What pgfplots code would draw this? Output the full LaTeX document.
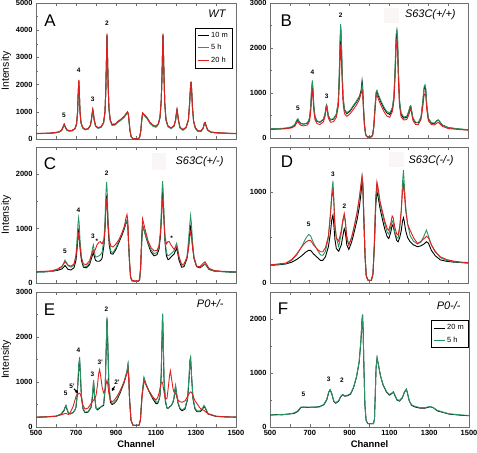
\documentclass[border=0pt]{standalone}
\usepackage{fontspec}
\setmainfont{Liberation Sans}
\usepackage{pgfplots}
\usepackage{pgfplotstable}
\pgfplotsset{compat=1.18}
\usetikzlibrary{arrows.meta}
\definecolor{cgreen}{RGB}{40,150,100}
\definecolor{cred}{RGB}{225,30,30}
\definecolor{axgray}{RGB}{110,110,110}
\definecolor{tbox}{RGB}{250,246,246}
\newcommand{\tickfont}{\fontsize{7.5}{8}\selectfont\bfseries}
\newcommand{\peakfont}{\fontsize{6.5}{7}\selectfont\bfseries}
\newcommand{\letterfont}{\fontsize{17}{18}\selectfont}
\newcommand{\titlefont}{\fontsize{11}{12}\selectfont\itshape}

\pgfplotstableread{
ch k g r
500 200 195 205
530 205 200 210
560 210 205 215
590 225 220 230
615 260 250 265
628 320 305 325
636 450 430 460
641 540 520 550
646 450 430 460
654 340 320 345
665 300 285 305
680 310 295 315
695 380 365 390
703 560 540 570
708 1000 980 1020
711 1650 1620 1680
714 2150 2100 2170
717 1650 1620 1680
720 1000 970 1020
725 600 580 610
733 420 400 430
745 350 335 360
760 370 355 380
772 500 480 510
778 750 730 760
781 950 920 960
784 1080 1040 1090
787 950 920 960
791 700 680 710
798 480 460 490
810 410 390 420
825 440 420 450
838 600 580 610
845 1000 970 1020
849 1800 1760 1830
852 2800 2750 2850
855 3850 3800 3880
858 2900 2850 2950
861 1900 1850 1930
865 1100 1070 1120
871 700 670 710
880 530 500 540
895 540 510 550
910 640 610 650
925 720 690 730
940 820 790 830
952 930 900 950
958 990 960 1000
962 900 880 920
966 600 590 610
970 300 290 310
976 80 75 85
985 10 10 15
1000 5 5 8
1012 10 10 15
1018 60 55 65
1024 300 290 310
1028 650 630 660
1033 950 920 960
1040 900 870 910
1055 780 750 790
1070 600 570 610
1085 500 470 510
1100 460 430 470
1112 560 530 570
1120 800 770 810
1126 1400 1360 1420
1130 2300 2250 2330
1133 3300 3250 3330
1135 3850 3800 3880
1137 3300 3250 3330
1140 2300 2250 2330
1144 1300 1270 1320
1150 700 680 710
1160 470 450 480
1175 400 380 410
1190 480 460 490
1198 700 680 710
1202 950 920 960
1205 1080 1050 1090
1208 950 920 960
1212 700 680 710
1220 420 400 430
1235 340 320 350
1250 420 400 430
1262 700 680 710
1268 1300 1270 1320
1272 1850 1800 1870
1275 2100 2050 2120
1278 1850 1800 1870
1282 1200 1170 1220
1288 650 630 660
1297 400 380 410
1310 290 275 300
1325 290 275 300
1336 400 385 410
1342 580 560 590
1346 600 580 610
1350 500 480 510
1358 330 315 340
1375 250 240 260
1400 230 220 235
1440 215 210 220
1470 205 200 210
1500 200 195 205
}\tabA

\pgfplotstableread{
ch k g r
500 200 205 190
540 205 210 195
580 215 220 205
610 240 250 225
625 290 300 260
635 380 400 340
641 410 430 370
647 360 370 320
657 320 320 280
670 310 310 270
690 330 340 290
700 430 450 380
706 700 740 600
710 1050 1100 900
714 1230 1280 1080
717 1050 1100 920
721 700 740 620
727 470 490 410
737 370 380 320
752 350 360 300
770 410 420 360
779 550 570 500
783 680 700 640
786 720 740 690
789 660 680 620
794 500 510 450
805 400 410 350
820 420 430 360
835 520 530 460
845 800 820 700
850 1400 1450 1200
854 2100 2200 1750
857 2450 2530 2070
860 2200 2300 1850
864 1500 1550 1300
869 900 920 780
876 620 640 540
888 540 560 480
905 600 620 540
920 700 720 630
935 790 810 720
950 900 920 840
960 1050 1000 990
965 1270 1200 1050
968 1150 1100 1000
972 700 680 640
977 300 300 280
983 80 80 70
992 25 25 20
1010 25 25 20
1018 60 60 50
1024 250 250 220
1030 650 650 600
1036 1000 1020 920
1040 1040 1060 960
1046 950 980 880
1060 800 830 730
1075 660 690 590
1090 560 590 490
1105 520 560 460
1118 640 680 590
1126 900 950 830
1132 1500 1600 1400
1137 2200 2300 2000
1141 2350 2410 2140
1144 2200 2300 2000
1148 1500 1550 1350
1154 800 850 720
1162 520 560 470
1175 440 470 400
1190 460 480 410
1200 560 590 500
1207 680 710 620
1211 700 720 640
1215 600 620 550
1222 430 450 390
1235 340 350 300
1250 340 350 300
1263 460 480 420
1272 800 840 700
1278 1080 1140 940
1283 1150 1180 990
1287 1050 1100 920
1292 700 730 620
1300 420 440 380
1315 330 340 300
1330 320 330 290
1343 380 390 330
1350 400 400 345
1357 360 370 320
1370 290 290 260
1400 230 230 210
1450 200 205 190
1500 180 185 175
}\tabB

\pgfplotstableread{
ch k g r
500 200 200 210
540 205 205 215
580 215 215 225
610 235 250 260
630 260 300 310
640 300 380 360
645 320 420 390
650 300 390 370
660 250 320 330
675 240 290 310
690 280 330 350
700 420 520 500
706 650 850 700
710 850 1100 850
713 950 1200 910
716 850 1100 860
720 650 800 680
727 420 480 460
737 290 320 350
752 280 300 340
768 340 370 410
777 450 520 520
783 520 650 580
787 550 700 605
791 500 600 570
797 420 480 620
805 400 480 700
815 400 500 750
822 410 520 760
830 450 560 720
840 700 800 800
845 1000 1150 1000
849 1400 1600 1350
853 1610 1860 1550
856 1450 1700 1450
860 1050 1200 1100
866 700 780 800
874 540 580 680
885 530 560 660
900 620 650 720
915 750 780 800
930 880 910 920
942 1000 1020 1050
950 1100 1120 1200
955 1150 1150 1260
959 1050 1060 1150
963 700 700 800
968 350 350 400
973 100 100 120
980 40 40 50
995 30 30 40
1012 30 30 40
1018 60 60 70
1023 250 250 300
1028 700 700 850
1033 1060 1060 1180
1038 1000 1000 1100
1048 870 880 950
1060 720 740 780
1075 570 610 650
1090 500 540 590
1105 520 560 600
1115 620 680 680
1122 850 950 900
1127 1200 1350 1150
1131 1600 1750 1450
1133 1700 1870 1550
1136 1550 1700 1450
1140 1150 1250 1150
1145 750 800 850
1152 500 560 720
1160 430 500 760
1166 440 510 760
1175 480 540 700
1190 530 590 620
1198 600 680 650
1203 640 730 670
1208 560 650 610
1215 420 480 480
1228 290 330 340
1240 300 330 350
1255 450 480 470
1263 680 800 640
1268 900 1050 820
1273 1030 1240 940
1277 930 1100 880
1282 700 800 680
1290 450 480 460
1303 300 310 310
1320 280 290 300
1335 320 330 360
1345 350 350 390
1352 320 330 350
1365 250 260 270
1390 220 220 230
1430 210 210 215
1470 200 200 210
1500 200 200 205
}\tabC

\pgfplotstableread{
ch k g r
500 195 195 200
540 200 205 210
580 210 215 220
610 230 250 260
635 260 310 320
660 300 400 400
680 340 490 450
695 360 535 470
705 360 520 470
720 320 440 420
740 280 360 370
755 250 310 345
767 250 305 345
780 290 350 390
795 400 500 520
805 550 750 750
812 700 1000 950
818 750 1125 1025
822 650 950 900
828 480 650 620
835 380 500 500
847 350 400 460
860 420 550 580
868 520 680 700
875 600 730 767
880 570 680 700
888 420 520 480
898 370 420 420
912 450 500 500
925 560 620 620
940 700 780 780
952 850 950 950
960 1000 1080 1100
965 1130 1180 1180
969 1050 1100 1100
974 700 720 720
980 300 300 300
986 80 80 80
995 30 30 30
1012 30 30 30
1020 100 100 100
1027 400 420 440
1034 850 900 950
1040 1010 1080 1115
1046 950 1000 1050
1056 820 870 900
1068 700 760 790
1080 590 650 680
1092 510 560 600
1100 490 540 580
1110 560 620 660
1117 640 685 740
1122 630 670 720
1130 550 560 620
1140 470 500 540
1147 455 495 530
1155 500 600 620
1163 580 800 800
1169 680 1100 1000
1174 720 1245 1090
1178 680 1100 1000
1185 580 850 800
1195 500 650 650
1208 455 520 580
1225 420 460 500
1245 400 430 435
1262 410 450 460
1278 430 520 490
1290 455 583 515
1300 440 520 500
1315 360 420 420
1335 300 350 340
1360 255 280 290
1390 240 250 260
1430 230 235 240
1470 225 225 230
1500 220 220 225
}\tabD

\pgfplotstableread{
ch k g r
500 215 220 220
550 225 230 225
600 240 240 240
625 280 290 270
640 360 380 290
645 430 430 300
650 470 480 300
655 390 400 290
663 300 300 280
672 290 300 330
685 320 320 450
695 380 380 600
700 440 450 680
705 650 700 710
710 1000 1050 730
714 1350 1400 745
718 1500 1550 750
722 1150 1200 730
727 680 700 650
735 400 420 480
745 320 330 400
760 330 340 420
775 430 450 520
782 650 700 560
788 1000 1040 600
793 680 700 620
800 420 420 700
808 380 400 950
813 400 420 1180
818 420 430 1275
823 440 440 1150
830 460 470 900
838 480 500 760
846 850 900 820
850 1550 1600 950
855 2400 2450 1040
859 1850 1900 950
864 950 1000 750
872 550 600 600
880 500 520 560
890 520 540 590
905 600 620 680
920 750 780 800
940 980 1000 1000
955 1220 1250 1200
960 1380 1400 1270
964 1100 1100 1050
968 600 600 600
975 150 150 150
985 40 40 40
1015 40 40 40
1022 150 150 150
1030 700 700 650
1040 1080 1100 1030
1050 950 950 930
1065 790 800 800
1085 620 650 660
1100 520 560 600
1108 520 540 650
1115 600 620 750
1120 700 700 850
1126 1150 1200 980
1130 1950 2000 1000
1133 2500 2520 980
1136 1950 2000 900
1140 1050 1100 780
1147 560 600 620
1155 420 420 640
1162 420 430 900
1168 450 440 1150
1172 460 460 1250
1177 480 480 1100
1185 550 560 850
1190 640 650 780
1195 830 850 760
1198 900 925 740
1202 760 780 700
1210 530 550 600
1220 400 420 560
1230 360 380 550
1245 400 420 580
1258 620 650 680
1265 1050 1100 740
1270 1480 1500 770
1273 1530 1555 780
1277 1180 1200 775
1285 620 650 700
1295 400 420 580
1305 340 360 520
1320 340 360 420
1333 400 420 380
1340 460 480 370
1345 430 450 350
1360 290 300 290
1400 235 240 240
1450 225 225 225
1500 220 220 220
}\tabE

\pgfplotstableread{
ch k g
500 220 225
530 230 225
560 225 235
590 240 235
620 250 260
640 290 300
655 360 370
670 370 365
690 360 370
710 370 360
730 365 375
750 380 370
770 410 420
785 500 510
795 640 650
802 690 690
810 620 630
820 480 490
830 440 450
845 480 490
855 560 570
865 600 600
875 570 580
890 580 590
905 610 620
920 730 740
935 930 940
948 1200 1210
957 1600 1620
962 1950 1970
965 2080 2080
968 1800 1800
972 1100 1100
977 400 400
983 120 120
992 60 60
1020 60 60
1025 150 150
1029 600 600
1033 1100 1100
1038 1280 1280
1045 1150 1150
1055 950 950
1068 780 790
1085 650 660
1100 590 600
1112 620 630
1120 650 650
1128 580 590
1138 500 510
1150 480 490
1165 540 550
1175 640 640
1185 700 700
1190 640 640
1200 480 480
1212 400 410
1230 370 380
1253 350 360
1280 350 360
1303 375 380
1320 360 360
1340 300 310
1370 270 275
1400 240 245
1440 225 230
1470 215 220
1500 210 215
}\tabF

\pgfplotsset{
 panel/.style={scale only axis, width=200bp, height=136bp, xmin=500, xmax=1500, ymin=0,
  xtick={500,600,...,1500}, xticklabels={}, xtick pos=both, ytick pos=left, tick align=inside,
  minor y tick num=1, axis line style={draw=axgray, line width=0.6bp},
  every tick/.style={draw=axgray, line width=0.5bp}, major tick length=3bp, minor tick length=1.8bp,
  ticklabel style={font=\tickfont}, anchor=south west},
 bottomlab/.style={xticklabels={500,,700,,900,,1100,,1300,,1500}, xlabel={Channel},
  xlabel style={font=\fontsize{9.5}{10}\selectfont\bfseries, yshift=2bp}},
 leftlab/.style={ylabel={Intensity}, ylabel style={font=\fontsize{10.5}{11}\selectfont, yshift=-2bp}},
 trk/.style={black, line width=0.9bp},
 trg/.style={cgreen, line width=0.9bp},
 trr/.style={cred, line width=0.9bp},
 lgd/.style={legend style={font=\fontsize{7.5}{9}\selectfont, draw=black, line width=0.5bp,
  inner sep=2bp, row sep=1.5bp, legend cell align=left},
  legend image code/.code={\draw[##1] (0bp,0bp) -- (11bp,0bp);}}
}

\begin{document}
\begin{tikzpicture}
\useasboundingbox (0,0) rectangle (477bp,-453bp);

% Panel A
\begin{axis}[panel, leftlab, lgd, at={(36bp,-139bp)}, ymax=5000, ytick={0,1000,...,5000},
  yticklabels={0,1000,2000,3000,4000,5000},
  legend style={at={(0.98,0.816)}, anchor=north east}]
\addplot[trk] table[x=ch,y=k]{\tabA}; \addlegendentry{10 m}
\addplot[trg] table[x=ch,y=g]{\tabA}; \addlegendentry{5 h}
\addplot[trr] table[x=ch,y=r]{\tabA}; \addlegendentry{20 h}
\node[font=\letterfont] at (rel axis cs:0.07,0.87) {A};
\node[font=\titlefont, anchor=east] at (rel axis cs:0.965,0.92) {WT};
\node[font=\peakfont] at (axis cs:640,860) {5};
\node[font=\peakfont] at (axis cs:713,2520) {4};
\node[font=\peakfont] at (axis cs:783,1460) {3};
\node[font=\peakfont] at (axis cs:855,4240) {2};
\end{axis}

% Panel B
\begin{axis}[panel, at={(270bp,-138bp)}, width=198bp, height=135bp, ymax=3000, ytick={0,1000,2000,3000},
  yticklabels={0,1000,2000,3000}]
\addplot[trk] table[x=ch,y=k]{\tabB};
\addplot[trg] table[x=ch,y=g]{\tabB};
\addplot[trr] table[x=ch,y=r]{\tabB};
\fill[tbox] (rel axis cs:0.576,0.85) rectangle (rel axis cs:0.652,0.96);
\node[font=\letterfont] at (rel axis cs:0.082,0.87) {B};
\node[font=\titlefont, anchor=east] at (rel axis cs:0.955,0.91) {S63C(+/+)};
\node[font=\peakfont] at (axis cs:641,650) {5};
\node[font=\peakfont] at (axis cs:714,1450) {4};
\node[font=\peakfont] at (axis cs:786,920) {3};
\node[font=\peakfont] at (axis cs:857,2730) {2};
\end{axis}

% Panel C
\begin{axis}[panel, leftlab, at={(36bp,-283bp)}, ymax=2500, ytick={0,1000,2000},
  yticklabels={0,1000,2000}]
\addplot[trk] table[x=ch,y=k]{\tabC};
\addplot[trg] table[x=ch,y=g]{\tabC};
\addplot[trr] table[x=ch,y=r]{\tabC};
\fill[tbox] (rel axis cs:0.58,0.83) rectangle (rel axis cs:0.65,0.955);
\node[font=\letterfont] at (rel axis cs:0.07,0.88) {C};
\node[font=\titlefont, anchor=east] at (rel axis cs:0.955,0.89) {S63C(+/-)};
\node[font=\peakfont] at (axis cs:645,580) {5};
\node[font=\peakfont] at (axis cs:712,1340) {4};
\node[font=\peakfont] at (axis cs:785,850) {3};
\node[font=\peakfont] at (axis cs:805,760) {*};
\node[font=\peakfont] at (axis cs:853,2020) {2};
\node[font=\peakfont] at (axis cs:1178,815) {*};
\end{axis}

% Panel D
\begin{axis}[panel, at={(270bp,-283bp)}, width=198bp, ymax=1500, ytick={0,1000},
  yticklabels={0,1000}]
\addplot[trk] table[x=ch,y=k]{\tabD};
\addplot[trg] table[x=ch,y=g]{\tabD};
\addplot[trr] table[x=ch,y=r]{\tabD};
\fill[tbox] (rel axis cs:0.6,0.85) rectangle (rel axis cs:0.675,0.96);
\node[font=\letterfont] at (rel axis cs:0.086,0.89) {D};
\node[font=\titlefont, anchor=east] at (rel axis cs:0.945,0.90) {S63C(-/-)};
\node[font=\peakfont] at (axis cs:695,650) {5};
\node[font=\peakfont] at (axis cs:818,1200) {3};
\node[font=\peakfont] at (axis cs:876,845) {2};
\end{axis}

% Panel E
\begin{axis}[panel, leftlab, bottomlab, at={(36bp,-427bp)}, height=135bp, ymax=3000,
  ytick={0,1000,2000,3000}, yticklabels={0,1000,2000,3000}]
\addplot[trk] table[x=ch,y=k]{\tabE};
\addplot[trg] table[x=ch,y=g]{\tabE};
\addplot[trr] table[x=ch,y=r]{\tabE};
\node[font=\letterfont] at (rel axis cs:0.067,0.87) {E};
\node[font=\titlefont, anchor=east] at (rel axis cs:0.955,0.916) {P0+/-};
\node[font=\peakfont] at (axis cs:648,740) {5};
\node[font=\peakfont] at (axis cs:680,905) {5'};
\draw[-{Latex[length=3.5bp,width=3.5bp]}, line width=1.1bp] (axis cs:690,850) -- (axis cs:712,745);
\node[font=\peakfont] at (axis cs:712,1700) {4};
\node[font=\peakfont] at (axis cs:782,1165) {3};
\node[font=\peakfont] at (axis cs:821,1445) {3'};
\node[font=\peakfont] at (axis cs:852,2620) {2};
\node[font=\peakfont] at (axis cs:905,1000) {2'};
\draw[-{Latex[length=3.5bp,width=3.5bp]}, line width=1.1bp] (axis cs:893,900) -- (axis cs:878,790);
\end{axis}

% Panel F
\begin{axis}[panel, bottomlab, lgd, at={(270bp,-427bp)}, width=199bp, height=135bp, ymax=2500,
  ytick={0,1000,2000}, yticklabels={0,1000,2000},
  legend style={at={(0.995,0.79)}, anchor=north east}]
\addplot[trk] table[x=ch,y=k]{\tabF}; \addlegendentry{20 m}
\addplot[trg] table[x=ch,y=g]{\tabF}; \addlegendentry{5 h}
\node[font=\letterfont] at (rel axis cs:0.065,0.88) {F};
\node[font=\titlefont, anchor=east] at (rel axis cs:0.975,0.90) {P0-/-};
\node[font=\peakfont] at (axis cs:668,610) {5};
\node[font=\peakfont] at (axis cs:795,890) {3};
\node[font=\peakfont] at (axis cs:862,860) {2};
\end{axis}
\end{tikzpicture}
\end{document}
